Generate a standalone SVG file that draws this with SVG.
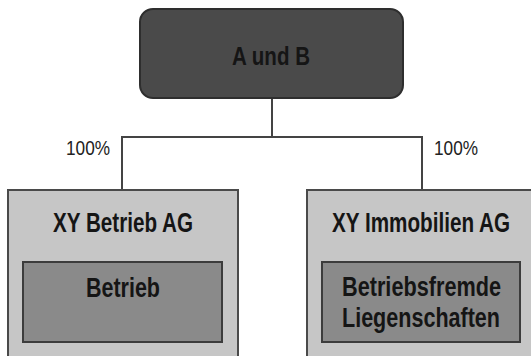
<svg xmlns="http://www.w3.org/2000/svg" width="531" height="356" viewBox="0 0 531 356">
<style>
.t{font-family:"Liberation Sans","DejaVu Sans",sans-serif;font-weight:bold;fill:#151515;text-anchor:middle}
.p{font-family:"Liberation Sans","DejaVu Sans",sans-serif;fill:#222}
.outer{fill:#c6c6c6;stroke:#4a4a4a;stroke-width:2}
.inner{fill:#8a8a8a;stroke:#3c3c3c;stroke-width:2}
.conn{fill:none;stroke:#444;stroke-width:2}
</style>
<rect width="531" height="356" fill="#fff"/>
<g id="connectors">
<path class="conn" d="M272 98 V137 M122 190 V137 H422 V190"/>
<text class="p" x="66" y="155" font-size="21" textLength="44" lengthAdjust="spacingAndGlyphs">100%</text>
<text class="p" x="434" y="155" font-size="21" textLength="44" lengthAdjust="spacingAndGlyphs">100%</text>
</g>
<g id="node-ab">
<rect x="140" y="9" width="263" height="89" rx="13" fill="#4a4a4a" stroke="#2e2e2e" stroke-width="2"/>
<text class="t" x="271" y="65" font-size="26" textLength="78" lengthAdjust="spacingAndGlyphs">A und B</text>
</g>
<g id="node-betrieb-ag">
<rect class="outer" x="8" y="190" width="230" height="180"/>
<text class="t" x="123" y="232" font-size="27" textLength="140" lengthAdjust="spacingAndGlyphs">XY Betrieb AG</text>
<g id="node-betrieb">
<rect class="inner" x="23" y="262" width="199" height="80"/>
<text class="t" x="123" y="297" font-size="27" textLength="74" lengthAdjust="spacingAndGlyphs">Betrieb</text>
</g>
</g>
<g id="node-immobilien-ag">
<rect class="outer" x="307" y="190" width="226" height="180"/>
<text class="t" x="421" y="232" font-size="27" textLength="178" lengthAdjust="spacingAndGlyphs">XY Immobilien AG</text>
<g id="node-liegenschaften">
<rect class="inner" x="322" y="262" width="198" height="80"/>
<text class="t" x="421.5" y="296" font-size="27" textLength="159" lengthAdjust="spacingAndGlyphs">Betriebsfremde</text>
<text class="t" x="421" y="327" font-size="27" textLength="158" lengthAdjust="spacingAndGlyphs">Liegenschaften</text>
</g>
</g>
</svg>
